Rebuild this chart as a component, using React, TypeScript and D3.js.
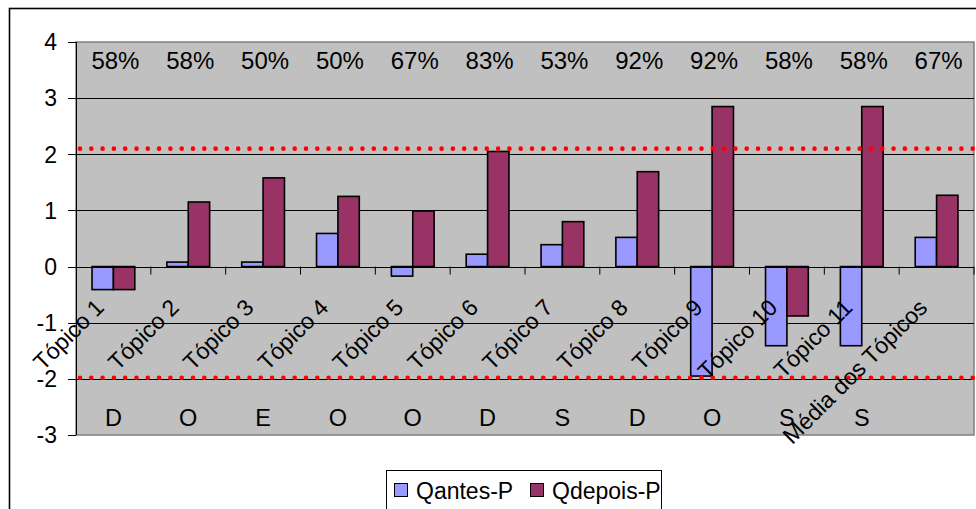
import React from "react";
import * as d3 from "d3";

const categories = [
  "Tópico 1", "Tópico 2", "Tópico 3", "Tópico 4", "Tópico 5", "Tópico 6",
  "Tópico 7", "Tópico 8", "Tópico 9", "Tópico 10", "Tópico 11", "Média dos Tópicos",
];
const seriesNames = ["Qantes-P", "Qdepois-P"];
const qAntes = [-0.41, 0.08, 0.08, 0.59, -0.17, 0.22, 0.39, 0.52, -1.95, -1.41, -1.41, 0.52];
const qDepois = [-0.41, 1.15, 1.58, 1.25, 0.99, 2.05, 0.8, 1.69, 2.85, -0.88, 2.85, 1.27];
const percentLabels = ["58%", "58%", "50%", "50%", "67%", "83%", "53%", "92%", "92%", "58%", "58%", "67%"];
const letterLabels = ["D", "O", "E", "O", "O", "D", "S", "D", "O", "S", "S", ""];
const limitLines = [2.1, -1.98];
const yTicks = [-3, -2, -1, 0, 1, 2, 3, 4];

const colors = ["#9999FF", "#993366"];
const FONT = "'Liberation Sans', Arial, Helvetica, sans-serif";

export default function App() {
  const W = 976, H = 509;
  const plot = { left: 76, right: 974, top: 42, bottom: 435 };

  const x = d3.scaleBand<string>().domain(categories).range([plot.left, plot.right]).padding(0);
  const cat = x.bandwidth();
  const gap = (1.5 / 3.5) * cat;
  const xs = d3.scaleBand<string>().domain(seriesNames).range([gap / 2, cat - gap / 2]).padding(0);
  const y = d3.scaleLinear().domain([-3, 4]).range([plot.bottom, plot.top]);

  const values = [qAntes, qDepois];

  return (
    <svg
      width={W}
      height={H}
      style={{ position: "fixed", left: 0, top: 0, background: "#fff" }}
      fontFamily={FONT}
    >
      {/* outer chart border */}
      <rect x={9.5} y={8.5} width={1000} height={560} fill="#fff" stroke="#000" strokeWidth={1.6} />

      {/* plot area */}
      <rect
        x={plot.left}
        y={plot.top}
        width={plot.right - plot.left}
        height={plot.bottom - plot.top}
        fill="#C0C0C0"
        stroke="#808080"
        strokeWidth={1.5}
      />

      {/* gridlines */}
      {yTicks.filter((t) => t > -3 && t < 4).map((t) => (
        <line key={"g" + t} x1={plot.left} x2={plot.right} y1={Math.round(y(t)) + 0.5} y2={Math.round(y(t)) + 0.5} stroke="#000" strokeWidth={1} />
      ))}

      {/* y axis */}
      <line x1={plot.left + 0.5} x2={plot.left + 0.5} y1={plot.top} y2={plot.bottom} stroke="#000" strokeWidth={1} />
      {yTicks.map((t) => (
        <g key={"t" + t}>
          <line x1={plot.left - 8} x2={plot.left} y1={Math.round(y(t)) + 0.5} y2={Math.round(y(t)) + 0.5} stroke="#000" strokeWidth={1} />
          <text x={57} y={y(t)} dy="0.36em" textAnchor="end" fontSize={23} fill="#000">
            {t}
          </text>
        </g>
      ))}

      {/* bars */}
      {categories.map((c, i) => (
        <g key={"b" + c}>
          {seriesNames.map((s, j) => {
            const v = values[j][i];
            const y0 = y(0), y1 = y(v);
            return (
              <rect
                key={s}
                x={(x(c) as number) + (xs(s) as number)}
                y={Math.min(y0, y1)}
                width={xs.bandwidth()}
                height={Math.abs(y1 - y0)}
                fill={colors[j]}
                stroke="#000"
                strokeWidth={1.6}
              />
            );
          })}
        </g>
      ))}

      {/* x axis at zero */}
      <line x1={plot.left} x2={plot.right} y1={Math.round(y(0)) + 0.5} y2={Math.round(y(0)) + 0.5} stroke="#000" strokeWidth={1.2} />
      {categories.map((c) => (
        <line key={"xt" + c} x1={(x(c) as number) + cat} x2={(x(c) as number) + cat} y1={y(0)} y2={y(0) + 8} stroke="#000" strokeWidth={1} />
      ))}

      {/* red dotted limit lines */}
      {limitLines.map((v) => (
        <line
          key={"l" + v}
          x1={plot.left + 4}
          x2={plot.right}
          y1={y(v)}
          y2={y(v)}
          stroke="#FF0000"
          strokeWidth={4.6}
          strokeLinecap="round"
          strokeDasharray="0 11.3"
        />
      ))}

      {/* x category labels */}
      {categories.map((c) => {
        const cx = (x(c) as number) + cat / 2 - 8;
        const cy = 309;
        return (
          <text key={"xl" + c} x={cx} y={cy} transform={`rotate(-45 ${cx} ${cy})`} textAnchor="end" fontSize={23} fill="#000">
            {c}
          </text>
        );
      })}

      {/* percent labels */}
      {categories.map((c, i) => (
        <text key={"p" + c} x={(x(c) as number) + cat / 2 + 2} y={69} textAnchor="middle" fontSize={24} fill="#000">
          {percentLabels[i]}
        </text>
      ))}

      {/* letter labels */}
      {categories.map((c, i) => (
        <text key={"L" + c} x={(x(c) as number) + cat / 2} y={426} textAnchor="middle" fontSize={23.5} fill="#000">
          {letterLabels[i]}
        </text>
      ))}

      {/* legend */}
      <rect x={386.5} y={470.5} width={275} height={60} fill="#fff" stroke="#000" strokeWidth={1} />
      {seriesNames.map((s, j) => {
        const lx = j === 0 ? 394 : 530;
        return (
          <g key={"lg" + s}>
            <rect x={lx + 0.5} y={483.5} width={13} height={13} fill={colors[j]} stroke="#000" strokeWidth={1} />
            <text x={lx + 22} y={499} fontSize={23} fill="#000">
              {s}
            </text>
          </g>
        );
      })}
    </svg>
  );
}
